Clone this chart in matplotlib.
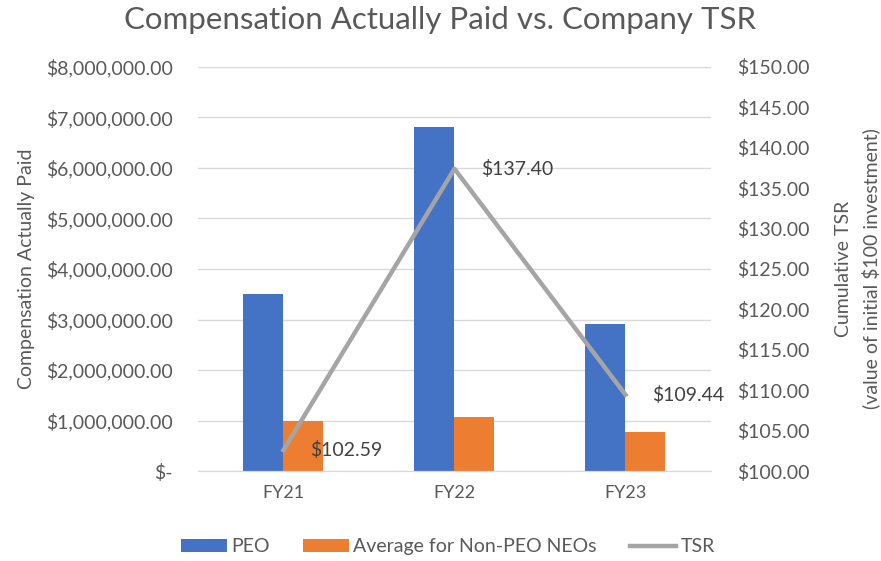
import matplotlib.pyplot as plt
import numpy as np
from matplotlib.ticker import FuncFormatter

# Chart data
years = ["FY21", "FY22", "FY23"]
peo = [3500000, 6820000, 2920000]
non_peo = [990000, 1060000, 770000]
tsr = [102.59, 137.40, 109.44]

plt.rcParams['font.family'] = ['Lato', 'DejaVu Sans']
txt = "#595959"

fig = plt.figure(figsize=(8.81, 5.61), dpi=100)
ax = fig.add_axes([0.2247, 0.1604, 0.5823, 0.7202])
ax2 = ax.twinx()

x = np.arange(len(years))
w = 0.234
b1 = ax.bar(x - w / 2, peo, w, color="#4472C4", label="PEO", zorder=2)
b2 = ax.bar(x + w / 2, non_peo, w, color="#ED7D31", label="Average for Non-PEO NEOs", zorder=2)
ln, = ax2.plot(x, tsr, color="#A5A5A5", lw=3.2, label="TSR", zorder=3)

# data labels, offset to the right of each TSR point
for xi, v in zip(x, tsr):
    ax2.annotate(f"${v:.2f}", (xi, v), xytext=(19, 0), textcoords="offset points",
                 va="center", ha="left", fontsize=14, color="#404040")

ax.set_xlim(-0.5, 2.5)
ax.set_ylim(0, 8000000)
ax.set_yticks(np.arange(0, 8000001, 1000000))
ax.yaxis.set_major_formatter(FuncFormatter(lambda v, p: "$-" if v == 0 else f"${v:,.2f}"))
ax2.set_ylim(100, 150)
ax2.set_yticks(np.arange(100, 151, 5))
ax2.yaxis.set_major_formatter(FuncFormatter(lambda v, p: f"${v:.2f}"))

ax.set_xticks(x)
ax.set_xticklabels(years)
ax.grid(axis="y", color="#D9D9D9", lw=1, zorder=0)
ax.set_axisbelow(True)

for a in (ax, ax2):
    for s in ("top", "left", "right"):
        a.spines[s].set_visible(False)
    a.spines["bottom"].set_color("#D9D9D9")
    a.tick_params(length=0, labelsize=14, colors=txt)
ax.tick_params(axis="x", pad=10, labelsize=13)
ax.tick_params(axis="y", pad=18)
ax2.tick_params(axis="y", pad=19)

ax.set_ylabel("Compensation Actually Paid", fontsize=14, color=txt, labelpad=8)
ax2.set_ylabel("Cumulative TSR\n(value of initial $100 investment)", fontsize=14,
               color=txt, labelpad=18, linespacing=1.6)
fig.suptitle("Compensation Actually Paid vs. Company TSR", fontsize=22.5, color=txt, y=0.99)

fig.legend([b1, b2, ln], ["PEO", "Average for Non-PEO NEOs", "TSR"], loc="center",
           bbox_to_anchor=(0.508, 0.025), ncol=3, frameon=False, fontsize=14,
           labelcolor=txt, handlelength=2.4, handleheight=0.6, handletextpad=0.2,
           columnspacing=1.7)

fig.savefig("out.png", dpi=100)
